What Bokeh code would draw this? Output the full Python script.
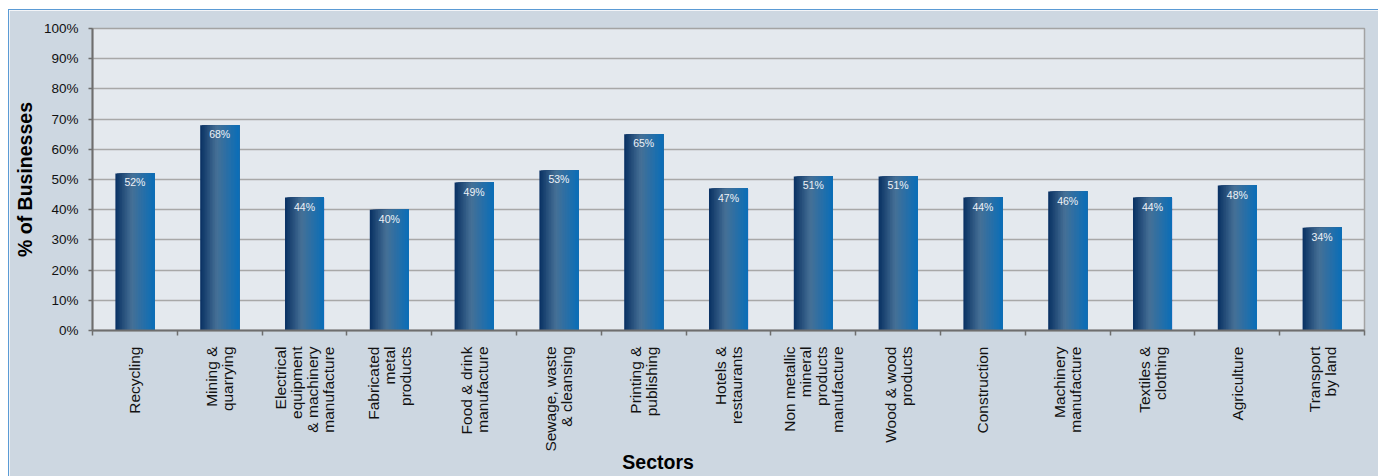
import numpy as np
from bokeh.plotting import figure
from bokeh.models import (Range1d, FixedTicker, CustomJSTickFormatter, PrintfTickFormatter,
                          ColumnDataSource)
from bokeh.core.properties import value
from bokeh.embed import file_html
from bokeh.resources import INLINE

categories = ["Recycling", "Mining &\nquarrying", "Electrical\nequipment\n& machinery\nmanufacture",
              "Fabricated\nmetal\nproducts", "Food & drink\nmanufacture", "Sewage, waste\n& cleansing",
              "Printing &\npublishing", "Hotels &\nrestaurants", "Non metallic\nmineral\nproducts\nmanufacture",
              "Wood & wood\nproducts", "Construction", "Machinery\nmanufacture", "Textiles &\nclothing",
              "Agriculture", "Transport\nby land"]
values = [52, 68, 44, 40, 49, 53, 65, 47, 51, 51, 44, 46, 44, 48, 34]
bar_labels = ["52%", "68%", "44%", "40%", "49%", "53%", "65%", "47%", "51%", "51%", "44%", "46%", "44%", "48%", "34%"]
y_ticks = [0, 10, 20, 30, 40, 50, 60, 70, 80, 90, 100]

FONT = "Liberation Sans"
n = len(categories)
idx = np.arange(n)
centers = idx + 0.5

p = figure(frame_width=1272, frame_height=302,
           min_border_left=83, min_border_right=14, min_border_top=18, min_border_bottom=146,
           x_range=Range1d(0, n), y_range=Range1d(0, 100),
           output_backend="svg", toolbar_location=None)
p.styles = {"margin-top": "9px", "margin-left": "8px",
            "border-top": "1px solid #5b9bd5", "border-left": "1px solid #5b9bd5"}

p.background_fill_color = "#e4e9ee"
p.border_fill_color = "#cdd7e1"
p.outline_line_color = "#a3a3a3"
p.outline_line_width = 1.5

# gradient bars: overlapping quads, each from its start to the bar's right edge
bar_w = 0.46
N = 24
stops = [(0.0, (8, 48, 98)), (0.42, (70, 112, 150)), (1.0, (10, 110, 184))]
def grad(t):
    for (t0, c0), (t1, c1) in zip(stops[:-1], stops[1:]):
        if t <= t1:
            f = (t - t0) / (t1 - t0)
            return "#%02x%02x%02x" % tuple(int(round(a + (b - a) * f)) for a, b in zip(c0, c1))
    return "#%02x%02x%02x" % stops[-1][1]

sw = bar_w / N
right_edge = centers + bar_w / 2
for k in range(N):
    left = centers - bar_w / 2 + sw * k
    src = ColumnDataSource(dict(l=left, r=right_edge, top=values, b=[0] * n))
    p.quad(left="l", right="r", top="top", bottom="b", source=src,
           fill_color=grad((k + 0.5) / N), line_color=None)

lsrc = ColumnDataSource(dict(x=centers, y=values, t=bar_labels))
p.text(x="x", y="y", text="t", source=lsrc, text_align="center", text_baseline="top",
       y_offset=3, text_color="#eef2f7", text_font=value(FONT), text_font_size="10.5px")

# grid
p.xgrid.visible = False
p.ygrid.ticker = FixedTicker(ticks=y_ticks)
p.ygrid.grid_line_color = "#a8a8a8"
p.ygrid.grid_line_width = 1.5

# y axis
ya = p.yaxis[0]
ya.ticker = FixedTicker(ticks=y_ticks)
ya.formatter = PrintfTickFormatter(format="%d%%")
ya.major_tick_out = 4
ya.major_tick_in = 0
ya.minor_tick_out = 0
ya.axis_line_color = "#6e6e6e"
ya.axis_line_width = 2
ya.major_tick_line_color = "#6e6e6e"
ya.major_tick_line_width = 1.5
ya.major_label_text_font = FONT
ya.major_label_text_font_size = "13.5px"
ya.major_label_text_color = "#111111"
ya.major_label_standoff = 10
ya.axis_label = "% of Businesses"
ya.axis_label_text_font = FONT
ya.axis_label_text_font_style = "bold"
ya.axis_label_text_font_size = "19.5px"
ya.axis_label_text_color = "#000000"
ya.axis_label_standoff = 5

# x axis
xa = p.xaxis[0]
xa.ticker = FixedTicker(ticks=list(centers), minor_ticks=list(range(n + 1)))
xa.formatter = CustomJSTickFormatter(args=dict(labels=categories),
                                     code="return labels[Math.floor(tick)];")
xa.major_tick_out = 0
xa.major_tick_in = 0
xa.minor_tick_out = 5
xa.minor_tick_in = 0
xa.minor_tick_line_color = "#6e6e6e"
xa.minor_tick_line_width = 1.5
xa.axis_line_color = "#6e6e6e"
xa.axis_line_width = 2
xa.major_label_orientation = np.pi / 2
xa.major_label_text_font = FONT
xa.major_label_text_font_size = "15.5px"
xa.major_label_text_line_height = 0.94
xa.major_label_text_color = "#111111"
xa.major_label_standoff = 11
# trailing no-break spaces shift the centred title left, as in the reference
xa.axis_label = "Sectors" + "\u00a0" * 26
xa.axis_label_text_font = FONT
xa.axis_label_text_font_style = "bold"
xa.axis_label_text_font_size = "19.5px"
xa.axis_label_text_color = "#000000"
xa.axis_label_standoff = -4

open("out.html", "w").write(file_html(p, INLINE))
